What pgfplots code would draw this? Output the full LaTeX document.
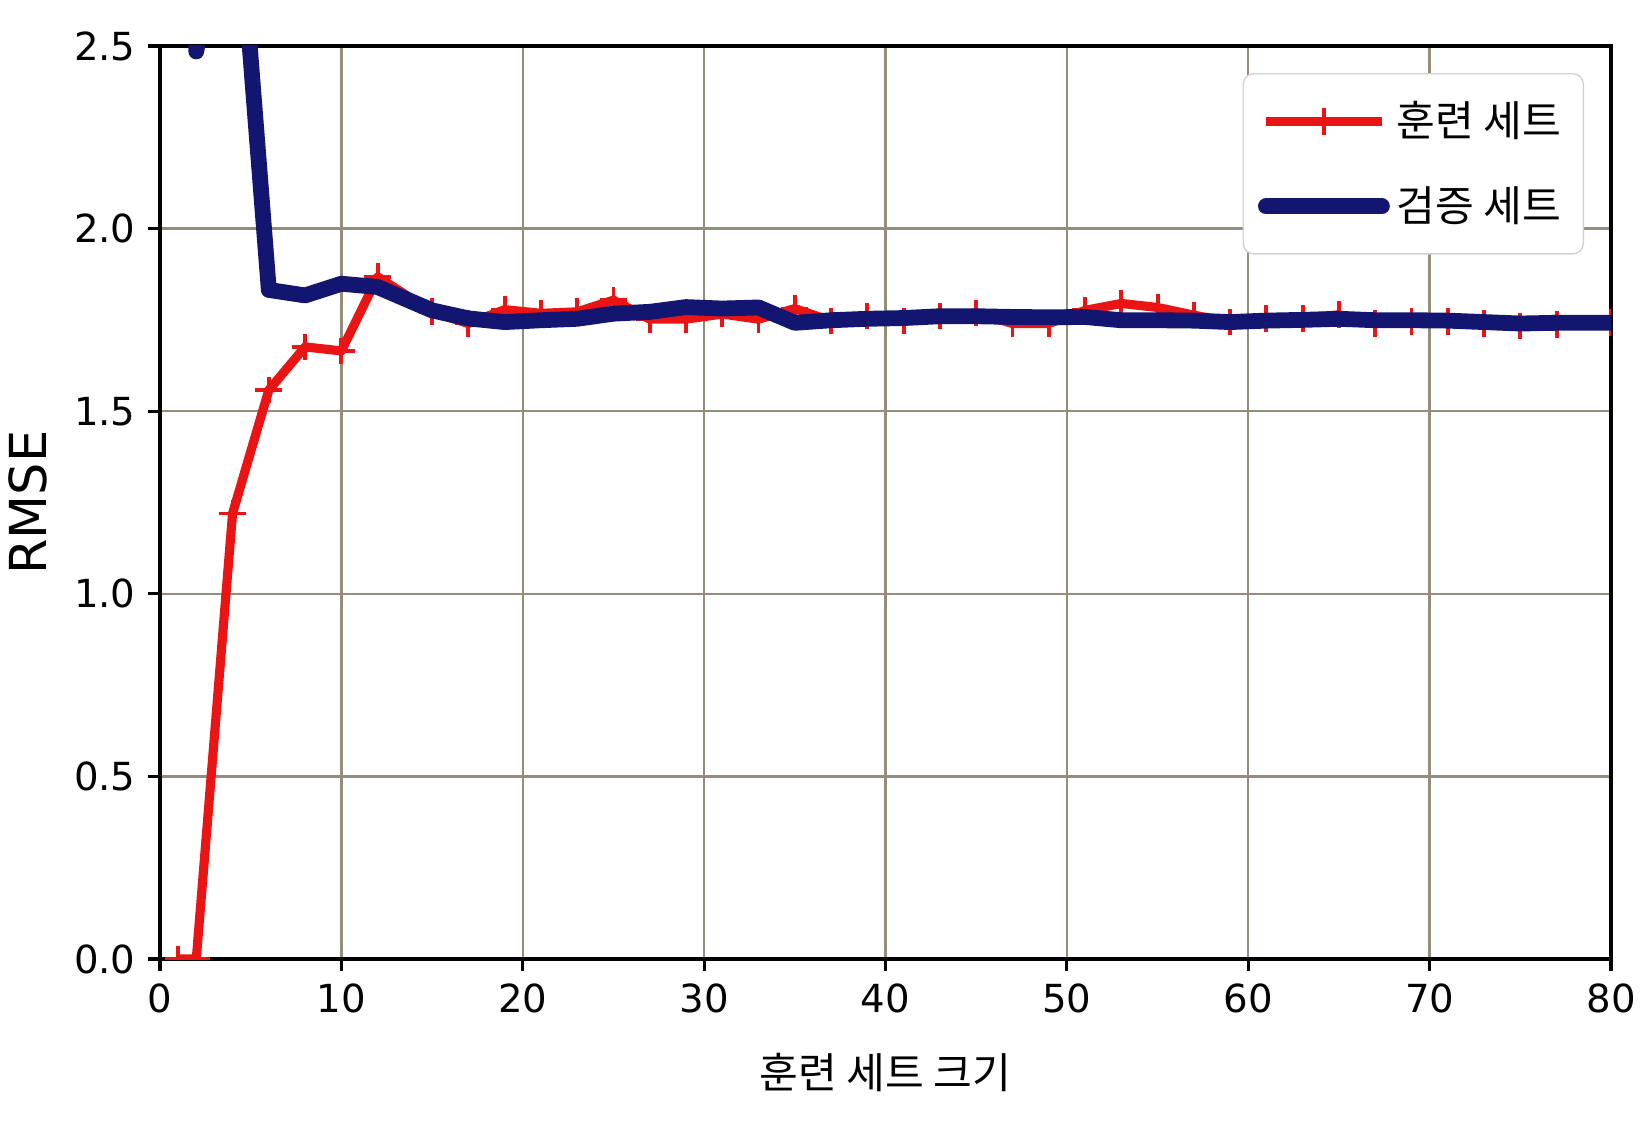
\documentclass[border=0pt]{standalone}
\usepackage{fontspec}
\setmainfont{DejaVu Sans}
\newfontfamily\kor{Noto Sans CJK KR}
\usepackage{pgfplots}
\pgfplotsset{compat=1.18}
\usetikzlibrary{calc}
\definecolor{trainred}{RGB}{235,20,20}
\definecolor{validblue}{RGB}{18,22,112}
\definecolor{gridc}{RGB}{150,140,122}
\pgfplotstableread{
x y
1 0
2 0
4 1.22
6 1.558
8 1.676
10 1.665
12 1.868
15 1.772
17 1.740
19 1.778
21 1.768
23 1.772
25 1.804
27 1.752
29 1.752
31 1.766
33 1.752
35 1.781
37 1.747
39 1.761
41 1.747
43 1.761
45 1.769
47 1.740
49 1.740
51 1.776
53 1.795
55 1.784
57 1.763
59 1.744
61 1.754
63 1.754
65 1.764
67 1.740
69 1.746
71 1.746
73 1.740
75 1.733
77 1.737
80 1.742
}\traindata
\pgfplotstableread{
x y
1 8.0
2 2.485
4 3.1
6 1.832
8 1.817
10 1.849
12 1.840
15 1.776
17 1.754
19 1.744
21 1.749
23 1.753
25 1.767
27 1.772
29 1.785
31 1.781
33 1.784
35 1.742
37 1.749
39 1.753
41 1.755
43 1.760
45 1.760
47 1.758
49 1.757
51 1.758
53 1.749
55 1.749
57 1.748
59 1.744
61 1.748
63 1.750
65 1.753
67 1.749
69 1.749
71 1.748
73 1.744
75 1.740
77 1.742
80 1.742
}\validdata
\begin{document}
\begin{tikzpicture}
\begin{axis}[
  name=ax,
  scale only axis,
  width=14.51cm, height=9.13cm,
  xmin=0, xmax=80, ymin=0, ymax=2.5,
  xtick={0,10,...,80},
  ytick={0,0.5,1,1.5,2,2.5},
  xtick pos=bottom, ytick pos=left,
  yticklabel style={/pgf/number format/.cd, fixed, fixed zerofill, precision=1},
  /pgf/number format/assume math mode=true,
  tick label style={font=\fontsize{11pt}{13pt}\selectfont},
  tick align=outside,
  major tick length=0.12cm,
  tick style={black, line width=0.9pt},
  axis line style={black, line width=1pt},
  grid=major,
  major grid style={gridc, line width=0.7pt},
  clip marker paths=true,
  xlabel={\kor 훈련 세트 크기},
  ylabel={RMSE},
  xlabel style={font=\fontsize{12pt}{14pt}\selectfont, at={(axis description cs:0.5,-0.124)}, anchor=center},
  ylabel style={font=\fontsize{14.5pt}{16pt}\selectfont, at={(axis description cs:-0.091,0.5)}, anchor=center},
  legend cell align=left,
  legend style={at={(0.9814,0.9704)}, anchor=north east, draw=gray!35, rounded corners=3pt,
    font=\kor\fontsize{12pt}{14pt}\selectfont, inner xsep=4.2pt, inner ysep=5.8pt,
    row sep=8.7pt},
  legend image code/.code={\draw[#1, mark repeat=2, mark phase=2] plot coordinates {(0cm,0cm) (0.58cm,0cm) (1.16cm,0cm)};},
]
\addplot[trainred, line width=2.6pt, line join=round, mark=+, mark size=3.8pt, mark options={line width=1.1pt}] table[x=x,y=y] {\traindata};
\addlegendentry{훈련 세트}
\addplot[validblue, line width=4.5pt, line join=round, line cap=round, mark=none] table[x=x,y=y] {\validdata};
\addlegendentry{검증 세트}
\end{axis}
\pgfresetboundingbox
\path[use as bounding box] ($(ax.south west)+(-1.60cm,-1.71cm)$) rectangle ($(ax.north east)+(0.34cm,0.46cm)$);
\end{tikzpicture}
\end{document}
